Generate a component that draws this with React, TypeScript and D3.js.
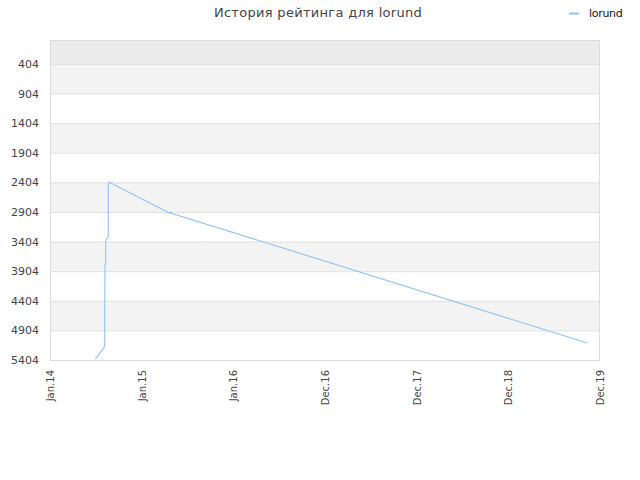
import React from 'react';
import * as d3 from 'd3';

const title = 'История рейтинга для lorund';
const seriesName = 'lorund';

const dates = [
  '2014-06-30', '2014-08-07', '2014-08-07', '2014-08-08', '2014-08-11', '2014-08-11',
  '2014-08-14', '2014-08-21', '2014-08-21', '2014-08-24', '2015-04-25', '2015-04-27',
  '2015-04-29', '2019-11-11',
];
const ratings = [
  5392, 5179, 4500, 3800, 3783, 3394,
  3361, 3327, 2449, 2398, 2928, 2905,
  2925, 5117,
];

const yTicks = [404, 904, 1404, 1904, 2404, 2904, 3404, 3904, 4404, 4904, 5404];
const yMin = 0;
const xStart = '2014-01-01T00:00:00Z';
const xEnd = '2019-12-31T12:00:00Z';

const W = 640;
const H = 480;
const margin = { top: 40, right: 40, bottom: 120, left: 50 };
const font = '"DejaVu Sans", Verdana, sans-serif';

const App: React.FC = () => {
  const x = d3.scaleUtc()
    .domain([new Date(xStart), new Date(xEnd)])
    .range([margin.left, W - margin.right]);
  const y = d3.scaleLinear()
    .domain([yMin, yTicks[yTicks.length - 1]])
    .range([margin.top, H - margin.bottom]);

  // evenly spaced ticks across the domain, like the original
  const [d0, d1] = x.domain().map(d => +d);
  const xTicks = d3.range(7).map(i => new Date(d0 + (i * (d1 - d0)) / 6));
  const fmt = d3.utcFormat('%b.%y');

  const points = dates.map((d, i) => [new Date(d + 'T00:00:00Z'), ratings[i]] as [Date, number]);
  const line = d3.line<[Date, number]>()
    .x(d => x(d[0]))
    .y(d => y(d[1]));

  const x0 = margin.left;
  const x1 = W - margin.right;

  return (
    <svg width={W} height={H} style={{ position: 'absolute', left: 0, top: 0, background: '#fff' }}>
      {/* bands */}
      <rect x={x0} y={y(yMin)} width={x1 - x0} height={y(yTicks[0]) - y(yMin)} fill="#ececec" />
      {yTicks.slice(0, -1).map((t, i) =>
        i % 2 === 0 ? (
          <rect key={t} x={x0} y={y(t)} width={x1 - x0} height={y(yTicks[i + 1]) - y(t)} fill="#f3f3f3" />
        ) : null
      )}
      {/* grid */}
      {yTicks.map(t => (
        <line key={t} x1={x0} x2={x1} y1={y(t) + 0.5} y2={y(t) + 0.5} stroke="#e0e0e0" />
      ))}
      <rect x={x0 + 0.5} y={margin.top + 0.5} width={x1 - x0 - 1} height={H - margin.bottom - margin.top}
        fill="none" stroke="#dcdcdc" />

      {/* y labels */}
      {yTicks.map(t => (
        <text key={t} x={x0 - 11} y={y(t) + 4} textAnchor="end" fontFamily={font} fontSize={11} fill="#444">
          {t}
        </text>
      ))}
      {/* x labels */}
      {xTicks.map((d, i) => (
        <text key={i} transform={`translate(${x(d) + 4},${H - margin.bottom + 10}) rotate(-90)`}
          textAnchor="end" fontFamily={font} fontSize={10} fill="#444">
          {fmt(d)}
        </text>
      ))}

      <path d={line(points) || ''} fill="none" stroke="#90c3f3" strokeWidth={1.1} />

      <text x={318} y={17} textAnchor="middle" fontFamily={font} fontSize={13} fill="#444"
        letterSpacing={0.3}>{title}</text>
      <line x1={569} x2={579} y1={13.5} y2={13.5} stroke="#90c3f3" strokeWidth={2} />
      <text x={589} y={17} fontFamily={font} fontSize={11} fill="#111" letterSpacing={-0.3}>{seriesName}</text>
    </svg>
  );
};

export default App;
